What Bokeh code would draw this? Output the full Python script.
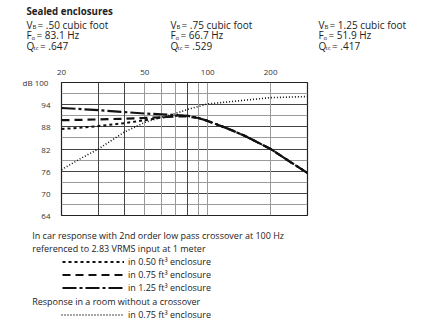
from bokeh.plotting import figure
from bokeh.layouts import column, row
from bokeh.models import (Label, Legend, LegendItem, FixedTicker, Grid,
                          PrintfTickFormatter, Range1d)
from bokeh.embed import file_html
from bokeh.resources import INLINE

# ---------------- data ----------------
freq_car = [20, 25, 30, 40, 50, 60, 70, 80, 90, 100, 125, 150, 200, 250, 300]
spl_050 = [87.4, 87.8, 88.2, 89.0, 89.8, 90.5, 91.0, 91.0, 90.4, 89.6, 87.5, 85.6, 82.0, 78.4, 75.5]
spl_075 = [89.8, 89.9, 90.0, 90.2, 90.4, 90.6, 90.8, 90.8, 90.4, 89.6, 87.5, 85.6, 82.0, 78.4, 75.5]
spl_125 = [93.1, 92.8, 92.5, 92.0, 91.6, 91.4, 91.2, 91.0, 90.4, 89.6, 87.5, 85.6, 82.0, 78.4, 75.5]
freq_room = [20, 25, 30, 40, 50, 60, 70, 80, 100, 150, 200, 300]
spl_room = [76.4, 79.6, 82.0, 86.6, 89.2, 90.6, 91.6, 92.7, 94.2, 95.2, 95.9, 96.2]

x_ticks = [20, 50, 100, 200]
y_ticks = [64, 70, 76, 82, 88, 94, 100]
y_minor = [67, 73, 79, 85, 91, 97]
x_grid_dark = [30, 40, 80]
x_grid_light = [50, 60, 70, 90, 100, 200]

header_title = "Sealed enclosures"
vb = [".50", ".75", "1.25"]
fo = ["83.1", "66.7", "51.9"]
qtc = [".647", ".529", ".417"]
note1 = "In car response with 2nd order low pass crossover at 100 Hz"
note2 = "referenced to 2.83 VRMS input at 1 meter"
note3 = "Response in a room without a crossover"
legend_labels = ["in 0.50 ft\u00b3 enclosure", "in 0.75 ft\u00b3 enclosure",
                 "in 1.25 ft\u00b3 enclosure", "in 0.75 ft\u00b3 enclosure"]

FONT = "Open Sans"
TXT = "#222222"

STY_050 = dict(line_color="#111111", line_width=2, line_dash="3 3")
STY_075 = dict(line_color="#111111", line_width=2.2, line_dash="8 5")
STY_125 = dict(line_color="#111111", line_width=2.2, line_dash="14 3 3 3")
STY_ROOM = dict(line_color="#111111", line_width=1.6, line_dash="1 2")

HEAD_H = 60
MAIN_H = 168
FOOT_H = 331 - HEAD_H - MAIN_H


def blank_fig(h):
    f = figure(width=438, height=h, x_range=Range1d(0, 438), y_range=Range1d(0, h),
               output_backend="svg", toolbar_location=None,
               min_border=0, min_border_left=0, min_border_right=0,
               min_border_top=0, min_border_bottom=0)
    f.axis.visible = False
    f.grid.visible = False
    f.outline_line_color = None
    f.background_fill_color = "white"
    f.border_fill_color = "white"
    return f


def lab(f, h, y0, cx, cy, text, size="10px", style="normal"):
    f.add_layout(Label(x=cx, y=h - (cy - y0), x_units="screen", y_units="screen",
                       text=text, text_font=FONT, text_font_size=size,
                       text_font_style=style, text_color=TXT,
                       text_align="left", text_baseline="middle"))


# ---------------- header ----------------
head = blank_fig(HEAD_H)
lab(head, HEAD_H, 0, 26, 10.7, header_title, size="9.7px", style="bold")
cols = [26, 170, 318]
for i, cx in enumerate(cols):
    lab(head, HEAD_H, 0, cx, 24, "V")
    lab(head, HEAD_H, 0, cx + 6, 26.5, "B", size="6px")
    lab(head, HEAD_H, 0, cx + 11, 24, "= " + vb[i] + " cubic foot")
    lab(head, HEAD_H, 0, cx, 34.5, "F")
    lab(head, HEAD_H, 0, cx + 5, 37, "o", size="6px")
    lab(head, HEAD_H, 0, cx + 10, 34.5, "= " + fo[i] + " Hz")
    lab(head, HEAD_H, 0, cx, 45, "Q")
    lab(head, HEAD_H, 0, cx + 7, 47.5, "tc", size="6px")
    lab(head, HEAD_H, 0, cx + 13.5, 45, "= " + qtc[i])

# ---------------- main chart ----------------
p = figure(width=438, height=MAIN_H, x_axis_type="log", x_axis_location="above",
           x_range=Range1d(20, 300), y_range=Range1d(64, 100),
           output_backend="svg", toolbar_location=None,
           min_border_left=61, min_border_right=131,
           min_border_top=82 - HEAD_H, min_border_bottom=HEAD_H + MAIN_H - 215)
p.outline_line_color = "#222222"
p.outline_line_width = 1.2
p.background_fill_color = "white"
p.border_fill_color = "white"

for ax in (p.xaxis[0], p.yaxis[0]):
    ax.axis_line_color = None
    ax.major_tick_line_color = None
    ax.minor_tick_line_color = None
    ax.major_label_text_font = FONT
    ax.major_label_text_font_size = "8px"
    ax.major_label_text_color = "#333333"
p.xaxis.ticker = FixedTicker(ticks=x_ticks)
p.xaxis.formatter = PrintfTickFormatter(format="%d")
p.xaxis.major_label_standoff = 2
p.yaxis.ticker = FixedTicker(ticks=y_ticks)
p.yaxis.major_label_overrides = {100: "dB  100"}
p.yaxis.major_label_standoff = 5

p.xgrid.visible = False
p.ygrid.ticker = FixedTicker(ticks=y_ticks)
p.ygrid.grid_line_color = "#444444"
p.ygrid.grid_line_width = 1
p.add_layout(Grid(dimension=1, ticker=FixedTicker(ticks=y_minor),
                  grid_line_color="#9a9a9a", grid_line_width=1))
p.add_layout(Grid(dimension=0, ticker=FixedTicker(ticks=x_grid_dark),
                  grid_line_color="#444444", grid_line_width=1))
p.add_layout(Grid(dimension=0, ticker=FixedTicker(ticks=x_grid_light),
                  grid_line_color="#999999", grid_line_width=1))

p.line(freq_room, spl_room, **STY_ROOM)
p.line(freq_car, spl_050, **STY_050)
p.line(freq_car, spl_075, **STY_075)
p.line(freq_car, spl_125, **STY_125)

# ---------------- footer ----------------
Y0 = HEAD_H + MAIN_H
foot = blank_fig(FOOT_H)
lab(foot, FOOT_H, Y0, 31.7, 235, note1, size="9px")
lab(foot, FOOT_H, Y0, 31.7, 248.3, note2, size="9px")
lab(foot, FOOT_H, Y0, 31.7, 300.7, note3, size="9px")

# legend keys: hidden copies of the series, used only for their line style
k050 = foot.line(freq_car, spl_050, visible=False, **STY_050)
k075 = foot.line(freq_car, spl_075, visible=False, **STY_075)
k125 = foot.line(freq_car, spl_125, visible=False, **STY_125)
kroom = foot.line(freq_room, spl_room, visible=False, **STY_ROOM)

leg_common = dict(orientation="vertical", glyph_height=13, label_height=13,
                  spacing=0, padding=0, margin=0, label_standoff=4,
                  border_line_color=None, background_fill_alpha=0,
                  inactive_fill_alpha=0,
                  label_text_font=FONT, label_text_font_size="9px",
                  label_text_color=TXT)
leg1 = Legend(items=[LegendItem(label=legend_labels[0], renderers=[k050]),
                     LegendItem(label=legend_labels[1], renderers=[k075]),
                     LegendItem(label=legend_labels[2], renderers=[k125])],
              location=(62, FOOT_H - (255 - Y0) - 39), glyph_width=62, **leg_common)
leg2 = Legend(items=[LegendItem(label=legend_labels[3], renderers=[kroom])],
              location=(61, FOOT_H - (307.5 - Y0) - 13), glyph_width=63, **leg_common)
foot.add_layout(leg1)
foot.add_layout(leg2)

layout = column(row(head), row(p), row(foot), spacing=0)
open("out.html", "w").write(file_html(layout, INLINE))
